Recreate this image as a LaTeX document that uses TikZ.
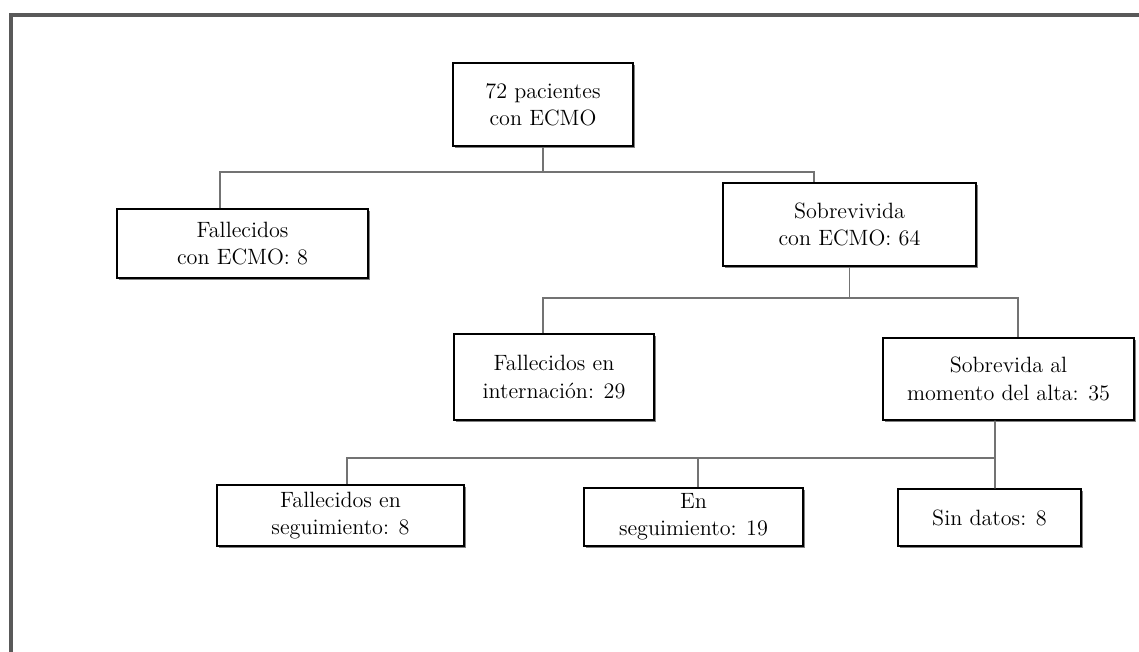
\documentclass[tikz,border=0pt]{standalone}
\usepackage{tikz}
\usetikzlibrary{calc,shadows}

\begin{document}
\begin{tikzpicture}[x=0.02cm,y=-0.02cm]
          \tikzset{box/.style = {draw=black, line width=0.8pt, fill=white, inner sep=0pt,
                     align=center, font=\fontsize{12.6}{15.5}\selectfont,
                     drop shadow={shadow xshift=0.9pt, shadow yshift=-0.9pt, opacity=0.7, fill=black!70}},
                   link/.style = {draw=black!55, line width=1.1pt},
                   frame/.style = {draw=black!65, line width=2.2pt}};
          \useasboundingbox (0,0) rectangle (1139,652);
          \draw[frame] (1139,15) -- (11,15) -- (11,652);

          % first level
          \node[box, minimum width=3.6cm, minimum height=1.66cm] (total) at (543,104.5) {72 pacientes\\con ECMO};
          \node[box, minimum width=5.02cm, minimum height=1.38cm] (fallEcmo) at (242.5,243.5) {Fallecidos\\con ECMO: 8};
          \node[box, minimum width=5.06cm, minimum height=1.66cm] (sobEcmo) at (849.5,224.5) {Sobrevivida\\con ECMO: 64};

          % second level
          \node[box, minimum width=4.0cm, minimum height=1.72cm] (fallInt) at (554,377) {Fallecidos en\\internación: 29};
          \node[box, minimum width=5.02cm, minimum height=1.64cm] (sobAlta) at (1008.5,379) {Sobrevida al\\momento del alta: 35};

          % follow up
          \node[box, minimum width=4.94cm, minimum height=1.22cm] (fallSeg) at (340.5,515.5) {Fallecidos en\\seguimiento: 8};
          \node[box, minimum width=4.38cm, minimum height=1.16cm] (enSeg) at (693.5,517) {En\\seguimiento: 19};
          \node[box, minimum width=3.66cm, minimum height=1.14cm] (sinDatos) at (989.5,517.5) {Sin datos: 8};

          % connectors
          \coordinate (bar_0) at ($(total.south)+(0,25)$);
          \draw[link] (total.south) -- (bar_0);
          \draw[link] ($(fallEcmo.north)+(-22.5,0)$) |- (bar_0) -| ($(sobEcmo.north)+(-35.5,0)$);

          \coordinate (bar_1) at ($(sobEcmo.south)+(0,31)$);
          \draw[link] (sobEcmo.south) -- (bar_1);
          \draw[link] ($(fallInt.north)+(-11,0)$) |- (bar_1) -| ($(sobAlta.north)+(9.5,0)$);

          \coordinate (bar_2) at ($(sobAlta.south)+(-13.5,37)$);
          \draw[link] ($(sobAlta.south)+(-13.5,0)$) -- ($(sinDatos.north)+(5.5,0)$);
          \draw[link] ($(fallSeg.north)+(6.5,0)$) |- (bar_2);
          \draw[link] ($(enSeg.north)+(4.5,0)$) |- (bar_2);
        \end{tikzpicture}
\end{document}
